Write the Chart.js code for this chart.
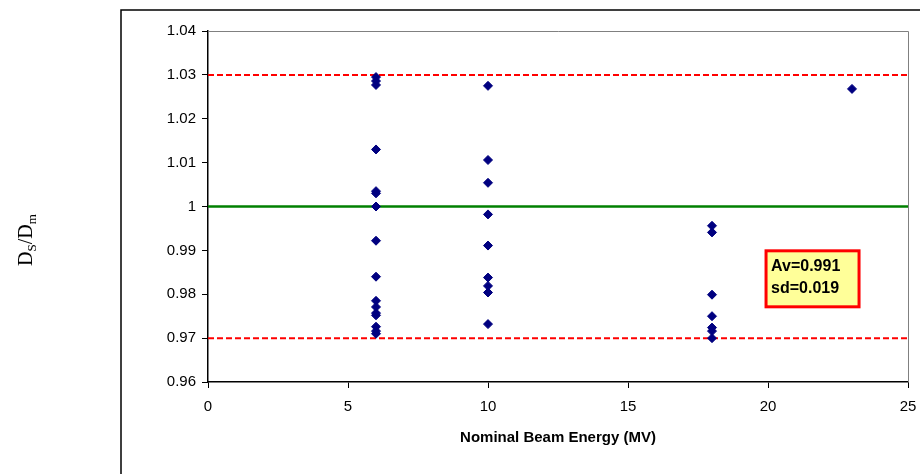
<!DOCTYPE html>
<html>
<head>
<meta charset="utf-8">
<script src="https://cdn.jsdelivr.net/npm/chart.js@4.4.1/dist/chart.umd.min.js"></script>
<style>
  html, body { margin: 0; padding: 0; background: #fff; }
</style>
</head>
<body>
<canvas id="ratioChart" width="920" height="474"></canvas>
<script>
// measured Ds/Dm ratios, grouped by nominal beam energy (MV)
const energies = [6, 10, 18, 23];
const ratios6 = [1.0295, 1.0286, 1.0277, 1.0130, 1.0035, 1.0030, 1.0000, 0.9922, 0.9840,
  0.9785, 0.9771, 0.9757, 0.9752, 0.9726, 0.9716, 0.9710];
const ratios10 = [1.0275, 1.0106, 1.0054, 0.9982, 0.9911, 0.9838, 0.9819, 0.9804, 0.9732];
const ratios18 = [0.9956, 0.9941, 0.9799, 0.9750, 0.9724, 0.9716, 0.9700];
const ratios23 = [1.0268];

// tolerance lines
const xRange = [0, 25];
const upperLimit = 1.03;
const lowerLimit = 0.97;
const unity = 1.0;

const xTickLabels = ['0', '5', '10', '15', '20', '25'];
const yTickLabels = ['0.96', '0.97', '0.98', '0.99', '1', '1.01', '1.02', '1.03', '1.04'];
const statsText = ['Av=0.991', 'sd=0.019'];
const statsAnchor = { x: 19.93, y: 0.9899 }; // top-left corner of the stats box

const groups = [ratios6, ratios10, ratios18, ratios23];
const points = [];
groups.forEach((g, i) => g.forEach(r => points.push({ x: energies[i], y: r })));

const hLine = (v) => xRange.map(x => ({ x: x, y: v }));

const FONT = 'Liberation Sans, Arial, sans-serif';

// frame, plot border, y label and stats box
const decorations = {
  id: 'decorations',
  beforeDraw(chart) {
    const ctx = chart.ctx;
    ctx.save();
    ctx.fillStyle = '#fff';
    ctx.fillRect(0, 0, chart.width, chart.height);
    ctx.strokeStyle = '#000';
    ctx.lineWidth = 1.5;
    ctx.strokeRect(121, 10, 900, 600);
    ctx.restore();
  },
  beforeDatasetsDraw(chart) {
    const { ctx, chartArea: a } = chart;
    ctx.save();
    ctx.strokeStyle = '#808080';
    ctx.lineWidth = 1;
    ctx.beginPath();
    ctx.moveTo(a.left, a.top + 0.5);
    ctx.lineTo(a.right + 0.5, a.top + 0.5);
    ctx.lineTo(a.right + 0.5, a.bottom);
    ctx.stroke();
    ctx.restore();
  },
  afterDatasetsDraw(chart) {
    const ctx = chart.ctx;
    const xs = chart.scales.x, ys = chart.scales.y;

    // stats box
    const bx = xs.getPixelForValue(statsAnchor.x);
    const by = ys.getPixelForValue(statsAnchor.y);
    ctx.save();
    ctx.fillStyle = '#FFFF99';
    ctx.fillRect(bx, by, 93, 56);
    ctx.strokeStyle = '#FF0000';
    ctx.lineWidth = 3;
    ctx.strokeRect(bx, by, 93, 56);
    ctx.fillStyle = '#000';
    ctx.font = 'bold 16px ' + FONT;
    ctx.textBaseline = 'alphabetic';
    ctx.fillText(statsText[0], bx + 5, by + 20);
    ctx.fillText(statsText[1], bx + 5, by + 42);
    ctx.restore();

    // rotated y label D_S / D_m
    const parts = [
      { t: 'D', sub: false }, { t: 'S', sub: true }, { t: '/', sub: false },
      { t: 'D', sub: false }, { t: 'm', sub: true }
    ];
    const big = '20px Liberation Serif, Times New Roman, serif';
    const small = '13px Liberation Serif, Times New Roman, serif';
    ctx.save();
    let total = 0;
    parts.forEach(p => { ctx.font = p.sub ? small : big; total += ctx.measureText(p.t).width; });
    ctx.translate(32, 240);
    ctx.rotate(-Math.PI / 2);
    ctx.fillStyle = '#000';
    ctx.textBaseline = 'alphabetic';
    let cx = -total / 2;
    parts.forEach(p => {
      ctx.font = p.sub ? small : big;
      ctx.fillText(p.t, cx, p.sub ? 4 : 0);
      cx += ctx.measureText(p.t).width;
    });
    ctx.restore();
  }
};

new Chart(document.getElementById('ratioChart'), {
  type: 'scatter',
  data: {
    datasets: [
      {
        data: points,
        pointStyle: 'rectRot',
        pointRadius: 4.5,
        backgroundColor: '#000080',
        borderColor: '#000080',
        borderWidth: 1
      },
      { data: hLine(upperLimit), showLine: true, pointRadius: 0, borderColor: '#FF0000', borderWidth: 2, borderDash: [6, 3] },
      { data: hLine(lowerLimit), showLine: true, pointRadius: 0, borderColor: '#FF0000', borderWidth: 2, borderDash: [6, 3] },
      { data: hLine(unity), showLine: true, pointRadius: 0, borderColor: '#008000', borderWidth: 2.5 }
    ]
  },
  options: {
    responsive: false,
    animation: false,
    layout: { padding: { top: 31, right: 12, left: 0, bottom: 0 } },
    plugins: { legend: { display: false }, tooltip: { enabled: false } },
    scales: {
      x: {
        type: 'linear',
        min: 0,
        max: 25,
        afterFit: (s) => { s.height = 92; s.paddingLeft = 0; s.paddingRight = 0; },
        ticks: {
          stepSize: 5,
          color: '#000',
          padding: 10,
          font: { family: FONT, size: 15 },
          callback: (v, i) => xTickLabels[i]
        },
        grid: { drawOnChartArea: false, tickLength: 6, color: '#000' },
        border: { color: '#000', width: 1.5 },
        title: {
          display: true,
          text: 'Nominal Beam Energy (MV)',
          color: '#000',
          font: { family: FONT, size: 15, weight: 'bold' },
          padding: { top: 0, bottom: 27 }
        }
      },
      y: {
        min: 0.96,
        max: 1.04,
        afterFit: (s) => { s.width = 208; },
        ticks: {
          stepSize: 0.01,
          color: '#000',
          padding: 6,
          font: { family: FONT, size: 15 },
          callback: (v, i) => yTickLabels[i]
        },
        grid: { drawOnChartArea: false, tickLength: 6, color: '#000' },
        border: { color: '#000', width: 1.5 }
      }
    }
  },
  plugins: [decorations]
});
</script>
</body>
</html>
